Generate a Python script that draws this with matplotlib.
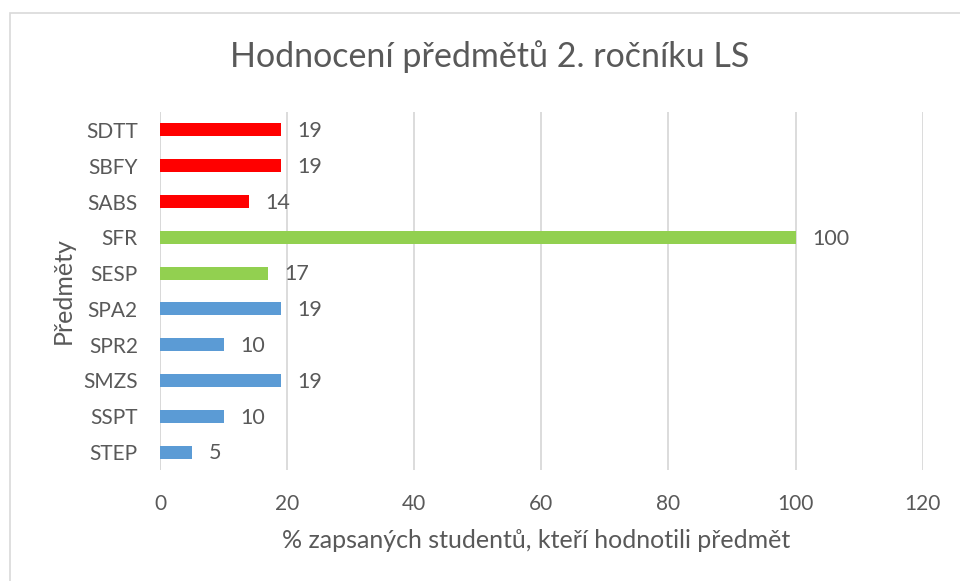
import matplotlib.pyplot as plt
from matplotlib.patches import Rectangle

plt.rcParams['font.family'] = ['Lato', 'DejaVu Sans']

# Data (bottom to top)
predmety = ['STEP', 'SSPT', 'SMZS', 'SPR2', 'SPA2', 'SESP', 'SFR', 'SABS', 'SBFY', 'SDTT']
hodnoty = [5, 10, 19, 10, 19, 17, 100, 14, 19, 19]
skupiny = ['blue', 'blue', 'blue', 'blue', 'blue', 'green', 'green', 'red', 'red', 'red']
barvy_skupin = {'blue': '#5B9BD5', 'green': '#92D050', 'red': '#FF0000'}
x_ticks = [0, 20, 40, 60, 80, 100, 120]

text_col = '#595959'
grid_col = '#D9D9D9'

fig = plt.figure(figsize=(9.6, 5.81), dpi=100)
ax = fig.add_axes([160 / 960, 1 - 470 / 581, (922.7 - 160) / 960, (470 - 112) / 581])

# ramecek grafu (viditelna jen horni a leva strana)
fig.patches.append(Rectangle((10 / 960, -0.1), 1.2, 1.1 - 13 / 581,
                             transform=fig.transFigure, fill=False,
                             edgecolor='#D9D9D9', linewidth=1.2))

y = range(len(predmety))
colors = [barvy_skupin[s] for s in skupiny]
ax.barh(y, hodnoty, height=0.36, color=colors, zorder=3)

for yi, v in zip(y, hodnoty):
    ax.annotate(str(v), xy=(v, yi), xytext=(12, -1), textcoords='offset points',
                ha='left', va='center', fontsize=15.5, color=text_col)

ax.set_xlim(0, 120)
ax.set_ylim(-0.5, len(predmety) - 0.5)
ax.set_xticks(x_ticks)
ax.set_yticks(list(y))
ax.set_yticklabels(predmety)
ax.tick_params(axis='both', length=0, labelsize=15, labelcolor=text_col)
ax.tick_params(axis='x', pad=17)
ax.tick_params(axis='y', pad=16)

ax.grid(axis='x', color=grid_col, linewidth=1.3, zorder=0)
for s in ax.spines.values():
    s.set_visible(False)
ax.axvline(0, color=grid_col, linewidth=1.3, zorder=1)

ax.set_xlabel('% zapsaných studentů, kteří hodnotili předmět', fontsize=18,
              color=text_col, labelpad=10)
ax.xaxis.set_label_coords(0.493, -0.165)
ax.set_ylabel('Předměty', fontsize=18, color=text_col, labelpad=6)
fig.text(490 / 960, 1 - 57 / 581, 'Hodnocení předmětů 2. ročníku LS',
         ha='center', va='center', fontsize=24.5, color=text_col)

fig.savefig('out.png', dpi=100)
